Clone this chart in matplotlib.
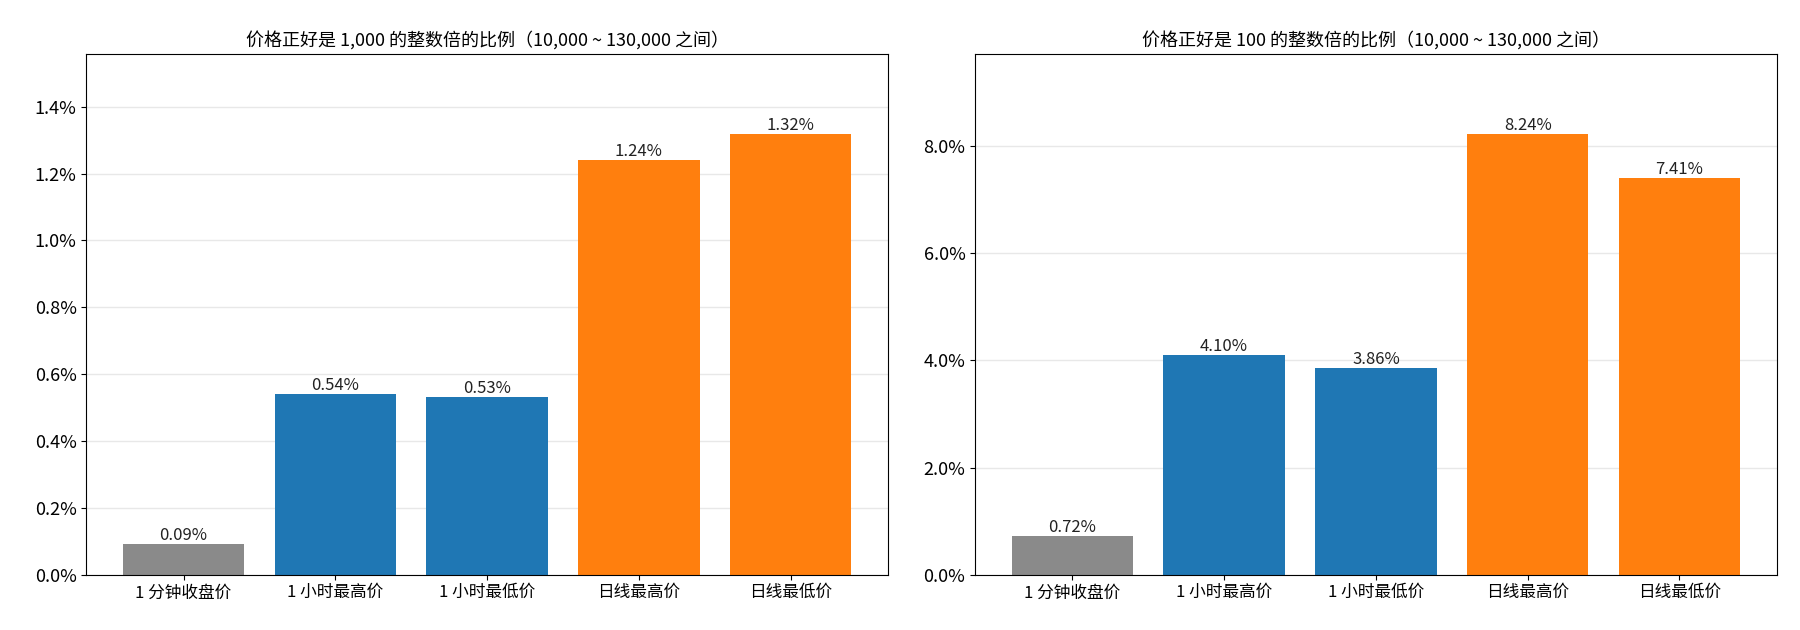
import matplotlib
matplotlib.use("Agg")
import matplotlib.pyplot as plt
from matplotlib.ticker import PercentFormatter

plt.rcParams['font.family'] = ['Noto Sans CJK SC', 'DejaVu Sans']

categories = ['1 分钟收盘价', '1 小时最高价', '1 小时最低价', '日线最高价', '日线最低价']
pct_1000 = [0.09, 0.54, 0.53, 1.24, 1.32]
pct_100 = [0.72, 4.10, 3.86, 8.24, 7.41]
bar_colors = ['#8a8a8a', '#1f77b4', '#1f77b4', '#ff7f0e', '#ff7f0e']
titles = ['价格正好是 1,000 的整数倍的比例（10,000 ~ 130,000 之间）',
          '价格正好是 100 的整数倍的比例（10,000 ~ 130,000 之间）']

fig, axes = plt.subplots(1, 2, figsize=(18, 6.3), dpi=100)
fig.subplots_adjust(left=0.048, right=0.987, top=0.914, bottom=0.088, wspace=0.109)
for ax, vals, title in zip(axes, [pct_1000, pct_100], titles):
    x = range(len(categories))
    bars = ax.bar(x, vals, color=bar_colors, width=0.8, zorder=2)
    ax.set_xticks(list(x))
    ax.set_xticklabels(categories, fontsize=12)
    ax.set_ylim(0, max(vals) * 1.18)
    ax.yaxis.set_major_formatter(PercentFormatter(decimals=1))
    ax.tick_params(axis='y', labelsize=13)
    ax.grid(axis='y', color='#e8e8e8', linewidth=1, zorder=0)
    ax.set_axisbelow(True)
    ax.set_title(title, fontsize=13)
    for b, v in zip(bars, vals):
        ax.text(b.get_x() + b.get_width() / 2, v, f'{v:.2f}%',
                ha='center', va='bottom', fontsize=12, color='#222222')

plt.savefig('out.png', dpi=100)
